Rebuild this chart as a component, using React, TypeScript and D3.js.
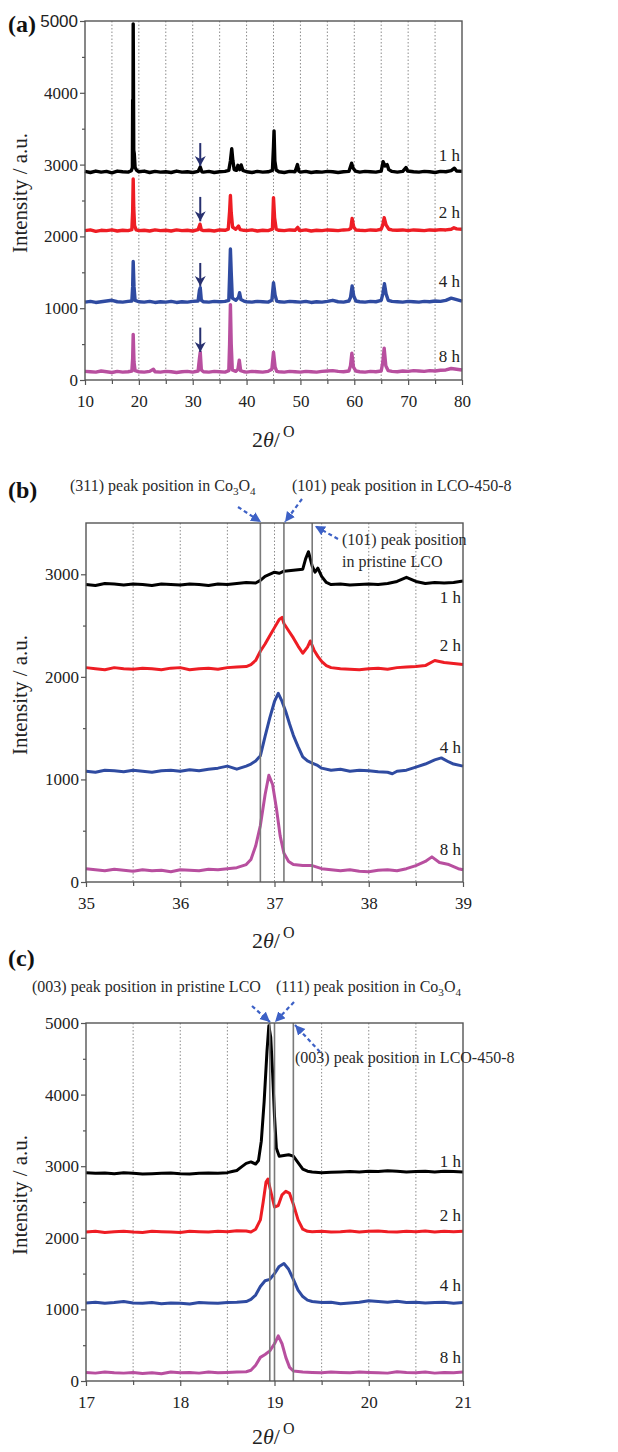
import React, { useRef, useEffect } from 'react';
import * as d3 from 'd3';

type Pt = [number, number];

const serif = '"Liberation Serif", "Times New Roman", serif';

// sample names and trace colours
const hours = ['1 h', '2 h', '4 h', '8 h'];
const colors = ['#000000', '#ee1d24', '#2f4ba1', '#b84f9f'];

// ---- panel (a): 10-80 deg survey scan ----
const wide1h: Pt[] = [[10,2905],[11,2890],[12,2910],[13,2895],[14,2905],[15,2885],[16,2910],[17,2900],[18,2895],[18.6,2915],[18.8,2960],[18.85,3900],[18.9,3300],[18.95,4960],[19.05,3200],[19.15,3150],[19.3,2960],[19.6,2920],[20,2900],[21,2910],[22,2890],[23,2905],[24,2895],[25,2900],[26,2890],[27,2910],[28,2895],[29,2900],[30,2890],[31,2905],[31.4,2965],[31.7,2900],[32,2895],[33,2905],[34,2890],[35,2900],[36,2905],[36.7,2920],[37.0,3050],[37.25,3220],[37.45,3060],[37.7,2930],[38.1,2920],[38.4,2990],[38.7,2930],[39.0,2995],[39.3,2920],[40,2900],[41,2890],[42,2905],[43,2895],[44,2900],[44.8,2920],[45.0,3250],[45.1,3470],[45.25,3050],[45.5,2925],[46,2900],[47,2890],[48,2905],[49,2900],[49.45,3000],[49.7,2910],[50,2895],[51,2905],[52,2890],[53,2900],[54,2895],[55,2905],[56,2900],[57,2890],[58,2900],[59,2905],[59.5,3020],[59.8,2950],[60.2,2910],[61,2895],[62,2905],[63,2900],[64,2895],[65,2910],[65.35,3040],[65.7,2980],[66.1,3000],[66.4,2930],[67,2905],[68,2895],[69,2905],[69.6,2960],[69.9,2910],[71,2900],[72,2895],[73,2905],[74,2900],[75,2890],[76,2905],[77,2900],[78,2915],[78.6,2950],[79,2910],[80,2905]];
const wide2h: Pt[] = [[10,2080],[11,2090],[12,2070],[13,2085],[14,2080],[15,2090],[16,2075],[17,2085],[18,2080],[18.7,2095],[18.85,2350],[18.95,2800],[19.05,2400],[19.2,2150],[19.5,2090],[20,2080],[21,2085],[22,2075],[23,2090],[24,2080],[25,2085],[26,2075],[27,2090],[28,2080],[29,2085],[30,2075],[31,2095],[31.35,2170],[31.6,2090],[32,2080],[33,2085],[34,2075],[35,2090],[36,2085],[36.6,2100],[36.85,2350],[37.0,2570],[37.15,2330],[37.4,2130],[38,2100],[38.5,2145],[38.8,2095],[39.5,2085],[40,2080],[41,2090],[42,2075],[43,2085],[44,2080],[44.8,2100],[45.0,2540],[45.2,2260],[45.5,2100],[46,2085],[47,2080],[48,2090],[49,2085],[49.5,2125],[49.8,2085],[50,2080],[51,2090],[52,2075],[53,2085],[54,2080],[55,2090],[56,2085],[57,2080],[58,2090],[59,2095],[59.35,2110],[59.6,2250],[59.9,2130],[60.3,2090],[61,2085],[62,2080],[63,2090],[64,2085],[65,2100],[65.3,2160],[65.55,2260],[65.9,2160],[66.4,2100],[67,2090],[68,2085],[69,2090],[70,2080],[71,2090],[72,2085],[73,2080],[74,2090],[75,2085],[76,2095],[77,2090],[78,2100],[78.5,2120],[79,2105],[80,2100]];
const wide4h: Pt[] = [[10,1085],[11,1095],[12,1080],[13,1090],[14,1100],[15,1110],[16,1090],[17,1085],[18,1095],[18.7,1100],[18.85,1300],[18.95,1650],[19.1,1300],[19.3,1110],[20,1090],[21,1085],[22,1095],[23,1080],[24,1090],[25,1085],[26,1095],[27,1080],[28,1090],[29,1085],[30,1095],[31,1100],[31.25,1250],[31.4,1285],[31.6,1110],[32,1090],[33,1085],[34,1095],[35,1090],[36,1095],[36.7,1110],[36.85,1450],[37.0,1825],[37.15,1500],[37.35,1140],[38,1110],[38.5,1150],[38.7,1215],[38.95,1120],[39.5,1100],[40,1090],[41,1085],[42,1095],[43,1090],[44,1085],[44.7,1110],[45.0,1355],[45.3,1180],[45.6,1100],[46,1090],[47,1085],[48,1095],[49,1090],[50,1085],[51,1095],[52,1080],[53,1090],[54,1085],[55,1095],[56,1110],[57,1090],[58,1085],[59,1100],[59.3,1150],[59.6,1310],[59.9,1170],[60.3,1100],[61,1090],[62,1085],[63,1095],[64,1090],[65,1110],[65.3,1200],[65.6,1340],[65.9,1200],[66.3,1110],[67,1095],[68,1090],[69,1085],[70,1095],[71,1090],[72,1085],[73,1095],[74,1090],[75,1100],[76,1095],[77,1110],[78,1140],[79,1120],[80,1100]];
const wide8h: Pt[] = [[10,120],[11,115],[12,110],[13,125],[14,115],[15,105],[16,120],[17,110],[18,115],[18.7,125],[18.85,300],[18.95,636],[19.1,250],[19.3,130],[20,115],[21,110],[22,120],[22.7,150],[23,115],[24,110],[25,120],[26,115],[27,105],[28,115],[29,120],[30,110],[31,125],[31.25,300],[31.4,387],[31.6,140],[32,115],[33,110],[34,120],[35,115],[36,110],[36.7,130],[36.85,500],[37.0,1050],[37.15,500],[37.35,140],[38,120],[38.4,150],[38.65,277],[38.9,130],[39.5,115],[40,110],[41,120],[42,115],[43,110],[44,120],[44.7,150],[45.0,387],[45.3,180],[45.6,120],[46,115],[47,110],[48,120],[49,115],[50,110],[51,120],[52,115],[53,110],[54,120],[55,125],[56,130],[57,120],[58,115],[59,125],[59.3,200],[59.55,373],[59.85,180],[60.3,125],[61,115],[62,110],[63,120],[64,115],[65,125],[65.3,250],[65.55,442],[65.85,200],[66.3,130],[67,120],[68,115],[69,125],[70,120],[71,130],[72,125],[73,120],[74,130],[75,125],[76,135],[77,140],[78,160],[79,150],[80,140]];
const wideArrowX = 31.4;
const wideArrowFrom = [3300, 2550, 1630, 730];
const wideArrowTo = [2980, 2210, 1310, 390];
const wideLabelY = [3050, 2256, 1295, 251];

// ---- panel (b): 35-39 deg, (101)/(311) region ----
const mid1h: Pt[] = [[35,2900],[35.1,2890],[35.2,2910],[35.3,2905],[35.4,2895],[35.5,2905],[35.6,2900],[35.7,2890],[35.8,2905],[35.9,2900],[36,2895],[36.1,2905],[36.2,2900],[36.3,2890],[36.4,2905],[36.5,2900],[36.6,2910],[36.7,2920],[36.8,2915],[36.85,2940],[36.9,2980],[37,3020],[37.05,3010],[37.1,3030],[37.2,3040],[37.3,3050],[37.33,3150],[37.36,3220],[37.4,3080],[37.43,3020],[37.46,3060],[37.5,2980],[37.55,2920],[37.6,2900],[37.7,2905],[37.8,2895],[37.9,2900],[38,2905],[38.1,2900],[38.2,2910],[38.3,2930],[38.4,2970],[38.45,2950],[38.5,2930],[38.6,2910],[38.7,2920],[38.8,2915],[38.9,2920],[39,2935]];
const mid2h: Pt[] = [[35,2090],[35.1,2080],[35.2,2070],[35.3,2090],[35.4,2080],[35.5,2075],[35.6,2085],[35.7,2080],[35.8,2070],[35.9,2085],[36,2090],[36.1,2070],[36.2,2080],[36.3,2085],[36.4,2075],[36.5,2090],[36.6,2095],[36.7,2100],[36.75,2120],[36.8,2160],[36.85,2250],[36.9,2320],[36.95,2400],[37,2480],[37.05,2560],[37.08,2580],[37.1,2520],[37.15,2450],[37.2,2380],[37.25,2300],[37.3,2230],[37.35,2290],[37.38,2350],[37.42,2260],[37.46,2200],[37.5,2150],[37.55,2110],[37.6,2090],[37.7,2080],[37.8,2075],[37.9,2070],[38,2080],[38.1,2085],[38.2,2075],[38.3,2090],[38.4,2095],[38.5,2100],[38.6,2110],[38.7,2160],[38.8,2140],[38.9,2130],[39,2120]];
const mid4h: Pt[] = [[35,1080],[35.1,1070],[35.2,1090],[35.3,1085],[35.4,1075],[35.5,1090],[35.6,1080],[35.7,1070],[35.8,1085],[35.9,1090],[36,1080],[36.1,1095],[36.2,1085],[36.3,1100],[36.4,1110],[36.5,1130],[36.6,1100],[36.7,1130],[36.75,1150],[36.8,1180],[36.85,1230],[36.9,1420],[36.95,1600],[37,1760],[37.04,1840],[37.08,1760],[37.12,1660],[37.16,1540],[37.2,1430],[37.25,1320],[37.3,1220],[37.35,1180],[37.4,1160],[37.45,1140],[37.5,1110],[37.6,1090],[37.7,1100],[37.8,1080],[37.9,1090],[38,1085],[38.1,1075],[38.2,1070],[38.25,1055],[38.3,1080],[38.4,1090],[38.5,1120],[38.6,1150],[38.7,1190],[38.77,1210],[38.85,1170],[38.9,1150],[39,1130]];
const mid8h: Pt[] = [[35,130],[35.1,120],[35.2,110],[35.3,125],[35.4,115],[35.5,105],[35.6,120],[35.7,110],[35.8,115],[35.9,100],[36,120],[36.1,115],[36.2,110],[36.3,125],[36.4,120],[36.5,130],[36.6,140],[36.7,170],[36.75,220],[36.8,350],[36.85,550],[36.9,850],[36.94,1040],[36.98,950],[37.02,720],[37.06,450],[37.1,280],[37.15,200],[37.2,170],[37.3,160],[37.4,160],[37.5,130],[37.6,120],[37.7,110],[37.8,120],[37.9,105],[38,100],[38.1,115],[38.2,120],[38.3,110],[38.4,130],[38.5,160],[38.6,200],[38.67,245],[38.75,190],[38.85,170],[38.95,130],[39,120]];
const midRefLines = [36.85, 37.1, 37.4];
const midLabelY = [2720, 2252, 1258, 263];

// ---- panel (c): 17-21 deg, (003)/(111) region ----
const low1h: Pt[] = [[17,2910],[17.1,2900],[17.2,2905],[17.3,2895],[17.4,2910],[17.5,2900],[17.6,2890],[17.7,2895],[17.8,2900],[17.9,2905],[18,2895],[18.1,2890],[18.2,2900],[18.3,2905],[18.4,2900],[18.5,2910],[18.55,2925],[18.6,2940],[18.65,2990],[18.7,3040],[18.75,3060],[18.8,3030],[18.83,3080],[18.86,3350],[18.89,3900],[18.92,4600],[18.94,4960],[18.96,4800],[18.98,4300],[19,3700],[19.02,3250],[19.05,3140],[19.1,3150],[19.15,3160],[19.2,3140],[19.25,3050],[19.3,2960],[19.35,2930],[19.4,2920],[19.5,2910],[19.6,2915],[19.7,2920],[19.8,2925],[19.9,2920],[20,2930],[20.1,2925],[20.2,2935],[20.3,2930],[20.4,2920],[20.5,2925],[20.6,2930],[20.7,2920],[20.8,2930],[20.9,2925],[21,2920]];
const low2h: Pt[] = [[17,2080],[17.1,2090],[17.2,2075],[17.3,2085],[17.4,2090],[17.5,2080],[17.6,2075],[17.7,2090],[17.8,2085],[17.9,2080],[18,2075],[18.1,2090],[18.2,2085],[18.3,2080],[18.4,2090],[18.5,2085],[18.6,2100],[18.7,2095],[18.75,2080],[18.8,2120],[18.85,2250],[18.88,2500],[18.91,2780],[18.93,2820],[18.96,2650],[19,2430],[19.04,2450],[19.08,2600],[19.12,2650],[19.16,2620],[19.2,2470],[19.25,2250],[19.3,2120],[19.35,2090],[19.4,2085],[19.5,2090],[19.6,2080],[19.7,2085],[19.8,2095],[19.9,2080],[20,2090],[20.1,2095],[20.2,2085],[20.3,2080],[20.4,2090],[20.5,2085],[20.6,2095],[20.7,2080],[20.8,2090],[20.9,2085],[21,2090]];
const low4h: Pt[] = [[17,1090],[17.1,1100],[17.2,1085],[17.3,1095],[17.4,1110],[17.5,1090],[17.6,1085],[17.7,1095],[17.8,1080],[17.9,1090],[18,1085],[18.1,1075],[18.2,1095],[18.3,1090],[18.4,1085],[18.5,1095],[18.6,1100],[18.7,1110],[18.75,1140],[18.8,1200],[18.85,1320],[18.9,1400],[18.95,1420],[19,1500],[19.05,1600],[19.1,1640],[19.15,1560],[19.2,1420],[19.25,1270],[19.3,1180],[19.35,1130],[19.4,1110],[19.5,1095],[19.6,1100],[19.7,1080],[19.8,1090],[19.9,1100],[20,1120],[20.1,1110],[20.2,1100],[20.3,1115],[20.4,1095],[20.5,1100],[20.6,1090],[20.7,1095],[20.8,1100],[20.9,1085],[21,1095]];
const low8h: Pt[] = [[17,120],[17.1,110],[17.2,125],[17.3,115],[17.4,110],[17.5,120],[17.6,105],[17.7,115],[17.8,100],[17.9,125],[18,115],[18.1,120],[18.2,110],[18.3,125],[18.4,115],[18.5,120],[18.6,125],[18.7,130],[18.75,150],[18.8,220],[18.85,330],[18.9,370],[18.95,420],[19,520],[19.04,630],[19.08,520],[19.12,330],[19.16,190],[19.2,140],[19.3,125],[19.4,120],[19.5,115],[19.6,125],[19.7,120],[19.8,115],[19.9,125],[20,120],[20.1,115],[20.2,110],[20.3,130],[20.4,120],[20.5,115],[20.6,125],[20.7,110],[20.8,120],[20.9,115],[21,125]];
const lowRefLines = [18.95, 19.0, 19.2];
const lowLabelY = [2989, 2235, 1257, 251];

type Part = { t: string; sub?: boolean };
type Note = { x: number; y: number; parts: Part[] };

const co3o4 = (pre: string): Part[] => [{ t: pre + 'Co' }, { t: '3', sub: true }, { t: 'O' }, { t: '4', sub: true }];

const midNotes: Note[] = [
  { x: 70, y: 491, parts: co3o4('(311) peak position in ') },
  { x: 292, y: 491, parts: [{ t: '(101) peak position in LCO-450-8' }] },
  { x: 342, y: 545, parts: [{ t: '(101) peak position' }] },
  { x: 342, y: 567, parts: [{ t: 'in pristine LCO' }] },
];
const midArrows = [[238, 507, 261, 522], [302, 499, 285, 522], [338, 539, 315, 526]];

const lowNotes: Note[] = [
  { x: 32, y: 992, parts: [{ t: '(003) peak position in pristine LCO' }] },
  { x: 276, y: 992, parts: co3o4('(111) peak position in ') },
  { x: 295, y: 1063, parts: [{ t: '(003) peak position in LCO-450-8' }] },
];
const lowArrows = [[252, 1006, 270, 1022], [294, 1002, 275, 1022], [320, 1052, 295, 1025]];

const range = (a: number, b: number, s: number) => d3.range(a, b + s / 2, s);

const panels = [
  {
    tag: '(a)', tagY: 32, series: [wide1h, wide2h, wide4h, wide8h], labelY: wideLabelY,
    xDomain: [10, 80], yDomain: [0, 5000], left: 85, right: 462, top: 21, bottom: 380,
    xTicks: range(10, 80, 10), xMinor: range(15, 75, 10), grid: range(15, 75, 5),
    yTicks: range(0, 5000, 1000), yMinor: range(500, 4500, 1000),
    refLines: [] as number[], width: 3.4, yTitle: 193, xTitle: 447, sansTop: true,
  },
  {
    tag: '(b)', tagY: 498, series: [mid1h, mid2h, mid4h, mid8h], labelY: midLabelY,
    xDomain: [35, 39], yDomain: [0, 3500], left: 86, right: 463, top: 523, bottom: 882,
    xTicks: range(35, 39, 1), xMinor: range(35.5, 38.5, 1), grid: range(35.5, 38.5, 0.5),
    yTicks: range(0, 3000, 1000), yMinor: range(500, 2500, 1000),
    refLines: midRefLines, width: 3, yTitle: 695, xTitle: 948, sansTop: false,
  },
  {
    tag: '(c)', tagY: 966, series: [low1h, low2h, low4h, low8h], labelY: lowLabelY,
    xDomain: [17, 21], yDomain: [0, 5000], left: 86, right: 463, top: 1023, bottom: 1381,
    xTicks: range(17, 21, 1), xMinor: range(17.5, 20.5, 1), grid: range(17.5, 20.5, 0.5),
    yTicks: range(0, 5000, 1000), yMinor: range(500, 4500, 1000),
    refLines: lowRefLines, width: 3, yTitle: 1195, xTitle: 1444, sansTop: false,
  },
];

function richText(g: any, note: Note, size: number, color: string) {
  const t = g.append('text').attr('x', note.x).attr('y', note.y)
    .attr('font-family', serif).attr('font-size', size).attr('fill', color);
  let off = 0;
  note.parts.forEach(p => {
    const want = p.sub ? 4 : 0;
    t.append('tspan').attr('dy', want - off).attr('font-size', p.sub ? size * 0.7 : size).text(p.t);
    off = want;
  });
}

function drawPanel(svg: any, p: any) {
  const x = d3.scaleLinear().domain(p.xDomain).range([p.left, p.right]);
  const y = d3.scaleLinear().domain(p.yDomain).range([p.bottom, p.top]);
  const g = svg.append('g');

  g.append('g').selectAll('line').data(p.grid).join('line')
    .attr('x1', (d: number) => x(d)).attr('x2', (d: number) => x(d))
    .attr('y1', p.top).attr('y2', p.bottom)
    .attr('stroke', '#8c8c8c').attr('stroke-width', 1).attr('stroke-dasharray', '1.5,2');

  const line = d3.line<Pt>().x(d => x(d[0])).y(d => y(d[1]));
  p.series.forEach((s: Pt[], i: number) => {
    g.append('path').datum(s).attr('d', line).attr('fill', 'none')
      .attr('stroke', colors[i]).attr('stroke-width', p.width).attr('stroke-linejoin', 'round');
  });

  g.append('g').selectAll('line').data(p.refLines).join('line')
    .attr('x1', (d: number) => x(d)).attr('x2', (d: number) => x(d))
    .attr('y1', p.top).attr('y2', p.bottom)
    .attr('stroke', '#7a7a7a').attr('stroke-width', 1.6);

  g.append('rect').attr('x', p.left).attr('y', p.top)
    .attr('width', p.right - p.left).attr('height', p.bottom - p.top)
    .attr('fill', 'none').attr('stroke', '#555').attr('stroke-width', 1.4);

  const styleAxis = (a: any) => {
    a.select('.domain').remove();
    a.attr('font-family', serif).attr('font-size', 17).attr('color', '#555');
    a.selectAll('text').attr('fill', '#222');
    a.selectAll('line').attr('stroke-width', 1.2);
  };
  const fmt = d3.format('d');
  styleAxis(g.append('g').attr('transform', `translate(0,${p.bottom})`)
    .call(d3.axisBottom(x).tickValues(p.xTicks).tickSize(5).tickPadding(10).tickFormat(fmt as any)));
  styleAxis(g.append('g').attr('transform', `translate(0,${p.bottom})`)
    .call(d3.axisBottom(x).tickValues(p.xMinor).tickSize(4).tickFormat(() => '')));
  const gy = g.append('g').attr('transform', `translate(${p.left},0)`)
    .call(d3.axisLeft(y).tickValues(p.yTicks).tickSize(5).tickPadding(2).tickFormat(fmt as any));
  styleAxis(gy);
  if (p.sansTop) {
    gy.selectAll('.tick text').filter((d: number) => d === 5000)
      .attr('font-family', '"Liberation Sans", Arial, sans-serif').attr('font-size', 17);
  }
  styleAxis(g.append('g').attr('transform', `translate(${p.left},0)`)
    .call(d3.axisLeft(y).tickValues(p.yMinor).tickSize(3).tickFormat(() => '')));

  // sample labels
  g.append('g').selectAll('text').data(p.labelY).join('text')
    .attr('x', p.right - 2).attr('y', (d: number) => y(d))
    .attr('text-anchor', 'end').attr('font-family', serif).attr('font-size', 17).attr('fill', '#222')
    .text((_: number, i: number) => hours[i]);

  // axis titles
  g.append('text').attr('transform', `translate(27,${p.yTitle}) rotate(-90)`)
    .attr('text-anchor', 'middle').attr('font-family', serif).attr('font-size', 21).attr('fill', '#222')
    .text('Intensity / a.u.');
  const xt = g.append('text').attr('x', 252).attr('y', p.xTitle)
    .attr('font-family', serif).attr('font-size', 22).attr('fill', '#222');
  xt.append('tspan').text('2');
  xt.append('tspan').attr('font-style', 'italic').text('θ');
  xt.append('tspan').text('/');
  xt.append('tspan').attr('dx', 3).attr('dy', -10).attr('font-size', 16).text('O');

  g.append('text').attr('x', 8).attr('y', p.tagY).attr('font-family', serif)
    .attr('font-weight', 'bold').attr('font-size', 24).attr('fill', '#111').text(p.tag);

  return { x, y, g };
}

function draw(svg: any) {
  const defs = svg.append('defs');
  defs.append('marker').attr('id', 'navyHead').attr('markerUnits', 'userSpaceOnUse')
    .attr('markerWidth', 12).attr('markerHeight', 12).attr('refX', 10).attr('refY', 5.5)
    .attr('orient', 'auto').append('path').attr('d', 'M0,0 L10,5.5 L0,11 L3,5.5 Z').attr('fill', '#27306f');
  defs.append('marker').attr('id', 'blueHead').attr('markerUnits', 'userSpaceOnUse')
    .attr('markerWidth', 12).attr('markerHeight', 12).attr('refX', 10).attr('refY', 5)
    .attr('orient', 'auto').append('path').attr('d', 'M0,0 L10,5 L0,10 Z').attr('fill', '#3d61c6');

  const drawn = panels.map(p => drawPanel(svg, p));

  // arrows marking the Co3O4 (220) peak in panel (a)
  const a = drawn[0];
  a.g.append('g').selectAll('line').data(wideArrowFrom).join('line')
    .attr('x1', a.x(wideArrowX)).attr('x2', a.x(wideArrowX))
    .attr('y1', (d: number) => a.y(d)).attr('y2', (_: number, i: number) => a.y(wideArrowTo[i]))
    .attr('stroke', '#27306f').attr('stroke-width', 2).attr('marker-end', 'url(#navyHead)');

  const notes = (list: Note[], arrows: number[][]) => {
    list.forEach(n => richText(svg, n, 16, '#2a2a2a'));
    svg.append('g').selectAll('line').data(arrows).join('line')
      .attr('x1', (d: number[]) => d[0]).attr('y1', (d: number[]) => d[1])
      .attr('x2', (d: number[]) => d[2]).attr('y2', (d: number[]) => d[3])
      .attr('stroke', '#3d61c6').attr('stroke-width', 2.2).attr('stroke-dasharray', '4,3')
      .attr('marker-end', 'url(#blueHead)');
  };
  notes(midNotes, midArrows);
  notes(lowNotes, lowArrows);
}

export default function App() {
  const ref = useRef<SVGSVGElement>(null);
  useEffect(() => {
    const svg = d3.select(ref.current);
    svg.selectAll('*').remove();
    draw(svg);
  }, []);
  return (
    <div style={{ position: 'absolute', left: 0, top: 0, background: '#fff' }}>
      <svg ref={ref} width={618} height={1452} style={{ display: 'block' }} />
    </div>
  );
}
